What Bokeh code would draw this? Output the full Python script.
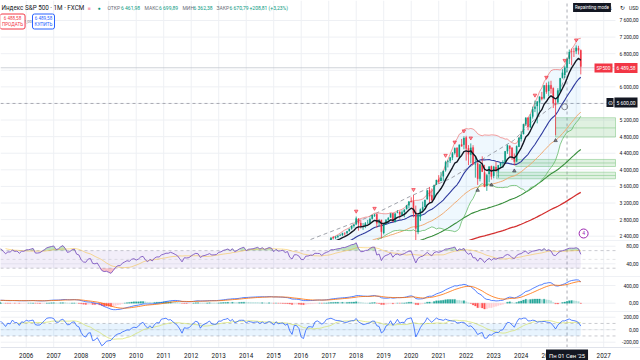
import numpy as np
import pandas as pd
from bokeh.plotting import figure
from bokeh.layouts import column
from bokeh.models import Range1d, Label
from bokeh.embed import file_html
from bokeh.resources import INLINE

# ---------------- data ----------------
start_year = 2003
# monthly closes 2003-01 .. 2015-12
early_closes = [
    856, 841, 848, 917, 964, 975, 990, 1008, 996, 1051, 1058, 1112,
    1131, 1145, 1126, 1107, 1121, 1141, 1102, 1104, 1115, 1130, 1174, 1212,
    1181, 1204, 1181, 1157, 1192, 1191, 1234, 1220, 1229, 1207, 1249, 1248,
    1280, 1281, 1295, 1311, 1270, 1270, 1277, 1304, 1336, 1378, 1401, 1418,
    1438, 1407, 1421, 1482, 1531, 1503, 1455, 1474, 1527, 1549, 1481, 1468,
    1379, 1331, 1323, 1386, 1400, 1280, 1267, 1283, 1165, 969, 896, 903,
    826, 735, 798, 873, 919, 919, 987, 1021, 1057, 1036, 1096, 1115,
    1074, 1104, 1169, 1187, 1089, 1031, 1102, 1049, 1141, 1183, 1181, 1258,
    1286, 1327, 1326, 1364, 1345, 1321, 1292, 1219, 1131, 1253, 1247, 1258,
    1312, 1366, 1408, 1398, 1310, 1362, 1379, 1407, 1441, 1412, 1416, 1426,
    1498, 1515, 1569, 1598, 1631, 1606, 1686, 1633, 1682, 1757, 1806, 1848,
    1783, 1859, 1872, 1884, 1924, 1960, 1931, 2003, 1972, 2018, 2068, 2059,
    1995, 2105, 2068, 2086, 2107, 2063, 2104, 1972, 1920, 2079, 2080, 2044,
]
# monthly candles 2016-01 .. 2026-03
bar_open = [
    2038, 1937, 1938, 2056, 2067, 2094, 2099, 2174, 2171, 2168, 2129, 2201,
    2251, 2285, 2381, 2363, 2388, 2416, 2431, 2477, 2475, 2521, 2583, 2645,
    2683, 2816, 2715, 2634, 2643, 2718, 2705, 2821, 2897, 2926, 2718, 2790,
    2477, 2703, 2798, 2848, 2953, 2751, 2972, 2981, 2910, 2983, 3050, 3144,
    3244, 3236, 2974, 2499, 2870, 3038, 3105, 3289, 3507, 3385, 3296, 3645,
    3764, 3731, 3842, 3992, 4193, 4217, 4300, 4407, 4529, 4317, 4610, 4602,
    4778, 4520, 4363, 4540, 4131, 4150, 3782, 4113, 3937, 3610, 3902, 4087,
    3853, 4070, 3963, 4102, 4167, 4180, 4450, 4578, 4530, 4284, 4201, 4559,
    4745, 4861, 5098, 5258, 5029, 5283, 5471, 5537, 5624, 5758, 5724, 6040,
    5903, 6041, 5968, 5598, 5626, 5897, 6219, 6287, 6462, 6680, 6850, 6850,
    6860, 6930, 6880,
]
bar_high = [
    2038, 1962, 2072, 2111, 2103, 2120, 2178, 2194, 2188, 2169, 2214, 2278,
    2301, 2371, 2401, 2398, 2418, 2454, 2484, 2491, 2520, 2582, 2657, 2695,
    2873, 2835, 2801, 2718, 2742, 2791, 2849, 2917, 2941, 2940, 2816, 2800,
    2708, 2813, 2860, 2950, 2954, 2965, 3028, 3014, 3022, 3050, 3155, 3248,
    3338, 3394, 3137, 2954, 3068, 3233, 3280, 3514, 3588, 3550, 3645, 3760,
    3871, 3950, 3984, 4219, 4239, 4302, 4429, 4538, 4546, 4608, 4744, 4808,
    4819, 4596, 4637, 4594, 4307, 4178, 4141, 4325, 4120, 3905, 4080, 4101,
    4095, 4195, 4110, 4170, 4231, 4449, 4607, 4584, 4541, 4393, 4587, 4793,
    4932, 5111, 5265, 5264, 5342, 5524, 5670, 5652, 5768, 5879, 6044, 6100,
    6128, 6147, 5986, 5695, 5969, 6216, 6427, 6508, 6700, 6900, 6920, 6940,
    7000, 6990, 6900,
]
bar_low = [
    1812, 1810, 1937, 2034, 2025, 1992, 2075, 2147, 2120, 2114, 2084, 2187,
    2245, 2271, 2322, 2328, 2353, 2405, 2407, 2417, 2446, 2520, 2557, 2605,
    2682, 2533, 2586, 2553, 2594, 2698, 2698, 2803, 2864, 2604, 2631, 2347,
    2444, 2681, 2723, 2848, 2751, 2729, 2952, 2822, 2892, 2856, 3050, 3070,
    3214, 2855, 2192, 2448, 2767, 2966, 3101, 3284, 3210, 3234, 3280, 3633,
    3662, 3725, 3723, 3955, 4057, 4164, 4234, 4368, 4305, 4279, 4560, 4495,
    4223, 4115, 4157, 4126, 3811, 3637, 3722, 3955, 3585, 3492, 3699, 3765,
    3795, 3944, 3809, 4049, 4048, 4167, 4385, 4335, 4238, 4103, 4197, 4547,
    4682, 4853, 5057, 4954, 5011, 5234, 5391, 5120, 5402, 5674, 5696, 5832,
    5773, 5837, 5489, 4835, 5578, 5862, 6201, 6212, 6362, 6550, 6520, 6720,
    6790, 6780, 6300,
]
bar_close = [
    1940, 1932, 2060, 2065, 2097, 2099, 2174, 2171, 2168, 2126, 2199, 2239,
    2279, 2364, 2363, 2384, 2412, 2423, 2470, 2472, 2519, 2575, 2648, 2674,
    2824, 2714, 2641, 2648, 2705, 2718, 2816, 2902, 2914, 2711, 2760, 2507,
    2704, 2784, 2834, 2946, 2752, 2942, 2980, 2926, 2977, 3038, 3141, 3231,
    3226, 2954, 2585, 2912, 3044, 3100, 3271, 3500, 3363, 3270, 3622, 3756,
    3714, 3811, 3973, 4181, 4204, 4298, 4395, 4523, 4308, 4605, 4567, 4766,
    4516, 4374, 4530, 4132, 4132, 3785, 4130, 3955, 3586, 3872, 4080, 3840,
    4077, 3970, 4109, 4169, 4180, 4450, 4589, 4508, 4288, 4194, 4568, 4770,
    4846, 5096, 5254, 5036, 5278, 5460, 5522, 5648, 5762, 5705, 6032, 5882,
    6041, 5955, 5612, 5569, 5912, 6205, 6339, 6460, 6671, 6840, 6849, 6845,
    6940, 6880, 6489,
]

year_ticks = list(range(2006, 2028))
year_labels = [str(y) for y in year_ticks]
price_ticks = [2400, 2800, 3200, 3600, 4000, 4400, 4800, 5200, 6000, 6800, 7200, 7600]
price_tick_labels = ["2 400,00", "2 800,00", "3 200,00", "3 600,00", "4 000,00", "4 400,00",
                     "4 800,00", "5 200,00", "6 000,00", "6 800,00", "7 200,00", "7 600,00"]
grid_prices = list(range(2400, 7601, 400))
rsi_ticks = [40, 80]
rsi_tick_labels = ["40,00", "80,00"]
macd_ticks = [0, 400]
macd_tick_labels = ["0,00", "400,00"]
cci_ticks = [-200, 0, 200]
cci_tick_labels = ["-200,00", "0,00", "200,00"]

fractal_high_months = ["2018-01", "2018-09", "2020-02", "2021-04", "2021-08", "2021-12",
                       "2022-03", "2024-07", "2024-12", "2025-08", "2026-01"]
fractal_low_months = ["2022-06", "2022-12", "2023-10", "2025-04"]

trend_t = [2016.34, 2018.41, 2019.97, 2021.43, 2022.52, 2023.72, 2024.45, 2025.28, 2025.65]
trend_p = [2320, 2850, 3363, 3791, 4225, 4707, 5190, 5600, 6395]

zone_left = [2025.25, 2023.80, 2023.10]
zone_bottom = [4790, 4080, 3784]
zone_top = [5255, 4250, 3943]
zone_mid = [5010, 4165, 3864]

last_price = 6460
cross_t = 2025 + 8 / 12
cross_price = 5600

# ---------------- indicators ----------------
closes = np.array(early_closes + bar_close, dtype=float)
n = len(closes)
t = start_year + np.arange(n) / 12.0
off = len(early_closes)
bo = np.array(bar_open, float); bh = np.array(bar_high, float)
bl = np.array(bar_low, float); bc = np.array(bar_close, float)
bt = t[off:]


def ema(x, k):
    a = 2.0 / (k + 1)
    out = np.empty(len(x))
    out[0] = x[0]
    for i in range(1, len(x)):
        out[i] = a * x[i] + (1 - a) * out[i - 1]
    return out


s = pd.Series(closes)
ema_fast = ema(closes, 8)
ema50 = ema(closes, 50)
ema100 = ema(closes, 100)
ema200 = ema(closes, 200)
basis = s.rolling(20).mean().to_numpy()
dev = s.rolling(20).std(ddof=0).to_numpy()
bb_up = basis + 2 * dev
bb_lo = basis - 2 * dev

d = np.diff(closes, prepend=closes[0])
up = pd.Series(np.maximum(d, 0)).ewm(alpha=1 / 14, adjust=False).mean()
dn = pd.Series(np.maximum(-d, 0)).ewm(alpha=1 / 14, adjust=False).mean()
rsi = (100 - 100 / (1 + up / dn)).to_numpy()
rsi[:14] = np.nan
rsi_ma = pd.Series(rsi).rolling(14).mean().to_numpy()

macd = ema(closes, 12) - ema(closes, 26)
signal = ema(macd, 9)
hist = macd - signal
prev = np.roll(hist, 1)
hist_col = np.where(hist >= 0, np.where(hist > prev, "#26a69a", "#b2dfdb"),
                    np.where(hist < prev, "#ff5252", "#ffcdd2"))

src = closes.copy()
src[off:] = (bh + bl + bc) / 3
ss = pd.Series(src)
m20 = ss.rolling(20).mean()
md20 = ss.rolling(20).apply(lambda w: np.mean(np.abs(w - w.mean())), raw=True)
cci = ((ss - m20) / (0.015 * md20)).to_numpy()
cci_ma = pd.Series(cci).rolling(14).mean().to_numpy()

# ---------------- layout ----------------
W = 640
PXY = 27.5                    # pixels per year
XR0 = 2005.0655
XR1 = XR0 + W / PXY
T_EDGE = XR0 + 615 / PXY      # right edge of the chart area (price scale beyond)
xr = Range1d(XR0, XR1)
GRID = "#eef0f4"
SEP = "#e0e3eb"
FONT = "Roboto"
TXT = "#131722"
AX_FS = 5
CROSS = dict(line_color="#9598a1", line_dash="3 3", line_width=0.8)


def slab(p, x, y, text, size, color, align="left", xunits="screen", yunits="screen",
         baseline="middle", **kw):
    p.add_layout(Label(x=x, y=y, x_units=xunits, y_units=yunits, text=text,
                       text_font_size=f"{size}px", text_color=color, text_align=align,
                       text_baseline=baseline, text_font=FONT, **kw))


def pane(h, y0, y1, ybot, ytop, hticks, ylabels, sep=True):
    p = figure(width=W, height=h, x_range=xr, y_range=Range1d(y0, y1),
               output_backend="svg", toolbar_location=None,
               x_axis_location=None, y_axis_location=None, min_border=0)
    p.outline_line_color = None
    p.background_fill_color = "white"
    p.border_fill_color = "white"
    for g in p.grid:
        g.visible = False
    p.segment(x0=year_ticks, x1=year_ticks, y0=ybot, y1=ytop, line_color=GRID, line_width=1)
    p.segment(x0=XR0, x1=T_EDGE, y0=hticks, y1=hticks, line_color=GRID, line_width=1)
    p.segment(x0=cross_t, x1=cross_t, y0=ybot, y1=ytop, **CROSS)
    if sep:
        p.segment(x0=XR0, x1=XR1, y0=ytop, y1=ytop, line_color=SEP, line_width=1)
    for v, lb in zip(hticks, ylabels):
        slab(p, 638, v, lb, AX_FS, TXT, align="right", yunits="data")
    return p


# main pane
H = 240
pm = pane(H, 2296, 8082, 2296, 8082, price_ticks, price_tick_labels, sep=False)
pm.segment(x0=XR0, x1=T_EDGE, y0=[p_ for p_ in grid_prices if p_ not in price_ticks],
           y1=[p_ for p_ in grid_prices if p_ not in price_ticks], line_color=GRID, line_width=1)
pm.segment(x0=XR0, x1=T_EDGE, y0=last_price, y1=last_price, line_color="#c3c6ce", line_width=0.8)
pm.segment(x0=XR0, x1=T_EDGE, y0=cross_price, y1=cross_price, **CROSS)

for i in range(len(zone_left)):
    pm.quad(left=zone_left[i], right=T_EDGE, bottom=zone_bottom[i], top=zone_top[i],
            fill_color="#66bb6a", fill_alpha=0.2, line_color="#81c784", line_alpha=0.7, line_width=0.8)
    pm.segment(x0=zone_left[i], x1=T_EDGE, y0=zone_mid[i], y1=zone_mid[i],
               line_color="#81c784", line_alpha=0.7, line_width=0.8)

pm.varea(x=t, y1=bb_lo, y2=bb_up, fill_color="#2196f3", fill_alpha=0.07)
pm.line(trend_t, trend_p, line_color="#9598a1", line_dash="4 3", line_width=0.9)
pm.line(t, ema200, line_color="#d32f2f", line_width=1.3)
pm.line(t, ema100, line_color="#388e3c", line_width=1.1)
pm.line(t, ema50, line_color="#efaa72", line_width=1.0)
pm.line(t, bb_lo, line_color="#66bb6a", line_width=0.8)
pm.line(t, bb_up, line_color="#ef5350", line_alpha=0.7, line_width=0.8)
pm.line(t, basis, line_color="#2e3a9e", line_width=1.1)

up_mask = bc >= bo
cols = np.where(up_mask, "#089981", "#f23645")
pm.segment(x0=bt, x1=bt, y0=bl, y1=bh, line_color=cols, line_width=0.8)
pm.vbar(x=bt, width=0.05, top=np.maximum(bo, bc), bottom=np.minimum(bo, bc),
        fill_color=cols, line_color=cols, line_width=0.2)
pm.line(t, ema_fast, line_color=TXT, line_width=1.4)


def midx(mstr):
    y, mo = mstr.split("-")
    return (int(y) - 2016) * 12 + int(mo) - 1


hi_idx = [midx(m) for m in fractal_high_months]
lo_idx = [midx(m) for m in fractal_low_months]
pm.scatter(bt[hi_idx], bh[hi_idx] + 130, marker="inverted_triangle", size=3.5,
           fill_color="#f23645", fill_alpha=0.5, line_color="#f23645", line_width=0.7)
pm.scatter(bt[lo_idx], bl[lo_idx] - 130, marker="triangle", size=3.5,
           fill_color="#434651", fill_alpha=0.6, line_color="#434651", line_width=0.7)

pm.scatter([2025.58], [5520], marker="circle", size=6, fill_color=None, line_color="#787b86", line_width=0.9)
pm.scatter([2026.27], [2465], marker="circle", size=9, fill_color="white", line_color="#9c27b0", line_width=1)
slab(pm, 2026.27, 2465, "4", 5, "#9c27b0", align="center", xunits="data", yunits="data")

# header & overlays (screen coords, y measured from pane bottom)
slab(pm, 1, H - 7, "Индекс S&P 500 · 1М · FXCM", 6.3, TXT)
slab(pm, 87, H - 7, "■", 5, "#f7a8b8")
slab(pm, 97, H - 7, "●", 5, "#089981")
ohlc = [(107, "ОТКР", "6 461,98", 13.5), (144, "МАКС", "6 699,89", 14.5),
        (182, "МИН", "6 362,38", 11), (216, "ЗАКР", "6 670,79", 13)]
for x0, lb, vl, w in ohlc:
    slab(pm, x0, H - 7, lb, 5, "#6a6d78")
    slab(pm, x0 + w, H - 7, vl, 5, "#089981")
slab(pm, 249, H - 7, "+208,81 (+3,23%)", 5, "#089981")
slab(pm, 12, H - 21, "6 488,58\nПРОДАТЬ", 4.6, "#f23645", align="center",
     border_line_color="#f23645", background_fill_color="white", padding=2, border_radius=2)
slab(pm, 27.5, H - 21, "1,00", 4, "#787b86", align="center")
slab(pm, 43, H - 21, "6 489,58\nКУПИТЬ", 4.6, "#2962ff", align="center",
     border_line_color="#2962ff", background_fill_color="white", padding=2, border_radius=2)
slab(pm, 591.5, H - 7, "Repainting mode", 4.5, "white", align="center",
     background_fill_color=TXT, padding=2)
slab(pm, 609, H - 7, "↓", 6, TXT)
slab(pm, 619, H - 7, "↻", 6, TXT)
slab(pm, 638, H - 7, "USD", 5, TXT, align="right")
slab(pm, 603, H - 67.5, "SP500", 4.8, "white", align="center",
     background_fill_color="#f23645", padding=2)
slab(pm, 637, H - 67.5, "6 489,58", AX_FS, "white", align="right",
     background_fill_color="#f23645", padding=2)
slab(pm, 606, H - 102, "⊙", 6, "white", background_fill_color=TXT, padding=1)
slab(pm, 637, H - 102, "5 600,00", AX_FS, "white", align="right",
     background_fill_color=TXT, padding=2)

# RSI pane
pr = pane(36, 11.1, 93.0, 11.1, 93.0, rsi_ticks, rsi_tick_labels)
pr.varea(x=t, y1=30, y2=70, fill_color="#7e57c2", fill_alpha=0.1)
pr.varea(x=t, y1=70, y2=np.where(np.isnan(rsi), 70, np.maximum(rsi, 70)), fill_color="#4caf50", fill_alpha=0.35)
pr.varea(x=t, y1=np.where(np.isnan(rsi), 30, np.minimum(rsi, 30)), y2=30, fill_color="#f23645", fill_alpha=0.3)
pr.segment(x0=XR0, x1=T_EDGE, y0=[70, 30], y1=[70, 30], line_color="#787b86", line_alpha=0.5,
           line_dash="3 3", line_width=0.8)
pr.segment(x0=XR0, x1=T_EDGE, y0=50, y1=50, line_color="#787b86", line_alpha=0.25,
           line_dash="3 3", line_width=0.8)
pr.line(t, rsi_ma, line_color="#f7b924", line_alpha=0.6, line_width=0.8)
pr.line(t, rsi, line_color="#7e57c2", line_width=0.9)

# MACD pane
pc = pane(35, -187.6, 603.4, -187.6, 603.4, macd_ticks, macd_tick_labels)
pc.vbar(x=t, width=0.06, top=hist, bottom=0, fill_color=hist_col, line_color=hist_col, line_width=0.3)
pc.line(t, macd, line_color="#2962ff", line_width=0.8)
pc.line(t, signal, line_color="#ff6d00", line_width=0.8)

# CCI pane + time scale strip (16 units per px; pane bottom -284.8, strip bottom -492.8)
CCI_BOT = -284.8
pz = pane(49, -492.8, 291.2, CCI_BOT, 291.2, cci_ticks, cci_tick_labels)
pz.varea(x=t, y1=-100, y2=100, fill_color="#2196f3", fill_alpha=0.1)
pz.segment(x0=XR0, x1=T_EDGE, y0=[100, -100], y1=[100, -100], line_color="#787b86", line_alpha=0.5,
           line_dash="3 3", line_width=0.8)
pz.segment(x0=XR0, x1=T_EDGE, y0=0, y1=0, line_color="#787b86", line_alpha=0.25,
           line_dash="3 3", line_width=0.8)
pz.line(t, cci_ma, line_color="#d4e157", line_alpha=0.8, line_width=0.8)
pz.line(t, cci, line_color="#2962ff", line_width=0.8)
pz.segment(x0=XR0, x1=XR1, y0=CCI_BOT, y1=CCI_BOT, line_color=SEP, line_width=1)
YLAB = CCI_BOT - 8 * 16
for yv, lb in zip(year_ticks, year_labels):
    slab(pz, yv, YLAB, lb, 6.3, TXT, align="center", xunits="data", yunits="data")
slab(pz, cross_t, YLAB, "Пн 01 Сен '25", 5.8, "white", align="center", xunits="data", yunits="data",
     background_fill_color=TXT, padding=3)

layout = column(pm, pr, pc, pz, spacing=0)
open("out.html", "w").write(file_html(layout, INLINE))
